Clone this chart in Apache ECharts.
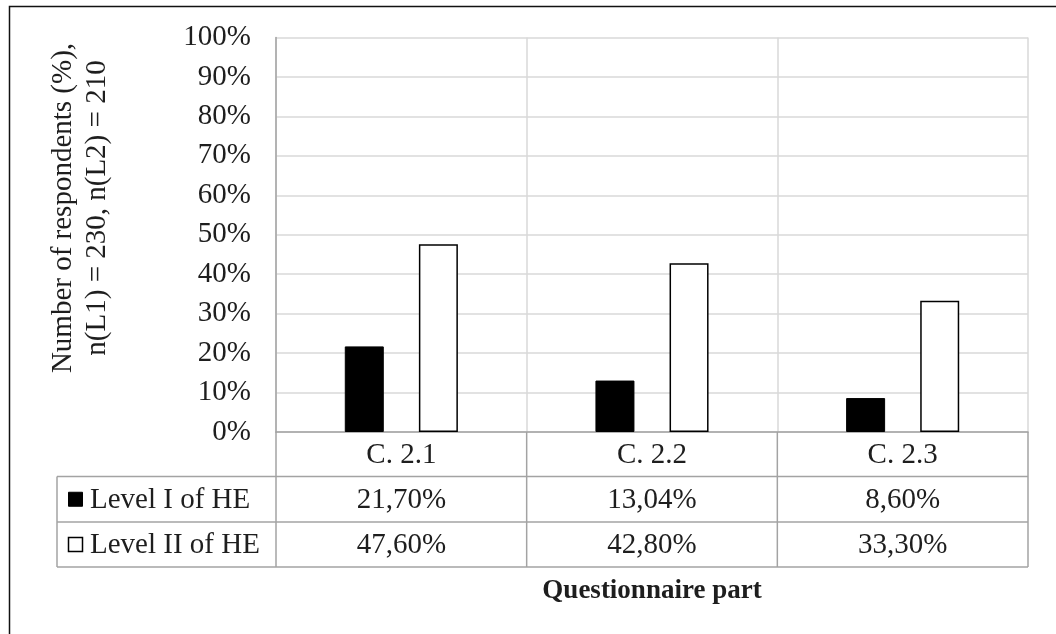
<!DOCTYPE html>
<html>
<head>
<meta charset="utf-8">
<script src="https://cdn.jsdelivr.net/npm/echarts@6/dist/echarts.min.js"></script>
<style>
html,body{margin:0;padding:0;background:#fff;}
#c{width:1056px;height:634px;}
</style>
</head>
<body>
<div id="c"></div>
<script>
var categories = ['C. 2.1', 'C. 2.2', 'C. 2.3'];
var seriesNames = ['Level I of HE', 'Level II of HE'];
var levelI = [21.70, 13.04, 8.60];
var levelII = [47.60, 42.80, 33.30];
var yTitleLines = ['Number of respondents (%),', 'n(L1) = 230, n(L2) = 210'];
var xTitle = 'Questionnaire part';

var FONT = "'Liberation Serif','Times New Roman',serif";
var FS = 29;
var TXT = '#1e1e1e';
var GRID_LEFT = 276, GRID_RIGHT = 28, GRID_TOP = 37.5, GRID_BOTTOM = 202;
var W = 1056, H = 634;

function fmt(v){ return v.toFixed(2).replace('.', ',') + '%'; }

var chart = echarts.init(document.getElementById('c'), null, {renderer:'canvas'});
var option = {
  backgroundColor: '#fff',
  animation: false,
  grid: {left: GRID_LEFT, right: GRID_RIGHT, top: GRID_TOP, bottom: GRID_BOTTOM},
  xAxis: {
    type: 'category',
    data: categories,
    axisLine: {show: true, lineStyle: {color: '#a3a3a3', width: 1.5}},
    axisTick: {show: false},
    axisLabel: {fontFamily: FONT, fontSize: FS, color: TXT, margin: 23, verticalAlign: 'middle'},
    splitLine: {show: true, lineStyle: {color: '#d9d9d9', width: 1.5}},
    name: xTitle,
    nameLocation: 'middle',
    nameGap: 146,
    nameTextStyle: {fontFamily: FONT, fontSize: 27, fontWeight: 'bold', color: TXT}
  },
  yAxis: {
    type: 'value',
    min: 0, max: 100, interval: 10,
    axisLine: {show: true, lineStyle: {color: '#a3a3a3', width: 1.5}},
    axisTick: {show: false},
    axisLabel: {formatter: '{value}%', fontFamily: FONT, fontSize: FS, color: TXT, margin: 25},
    splitLine: {show: true, lineStyle: {color: '#d9d9d9', width: 1.5}}
  },
  series: [
    {name: seriesNames[0], type: 'bar', data: levelI, barWidth: 39, barGap: '90%',
     itemStyle: {color: '#000', borderColor: '#000', borderWidth: 1}},
    {name: seriesNames[1], type: 'bar', data: levelII, barWidth: 39,
     itemStyle: {color: '#fff', borderColor: '#000', borderWidth: 1.5}}
  ]
};
chart.setOption(option);

// Build data table beneath the axis, using the axis scale for column centers
var plotBottom = H - GRID_BOTTOM;
var plotRight = W - GRID_RIGHT;
var catW = (plotRight - GRID_LEFT) / categories.length;
var rowTop1 = 476.5, rowTop2 = 522, tableBottom = 567, tableLeft = 57;
var LC = '#a3a3a3';
var els = [];
function hline(x1, x2, y){ els.push({type:'line', shape:{x1:x1,y1:y,x2:x2,y2:y}, style:{stroke:LC, lineWidth:1.5}}); }
function vline(x, y1, y2){ els.push({type:'line', shape:{x1:x,y1:y1,x2:x,y2:y2}, style:{stroke:LC, lineWidth:1.5}}); }
hline(tableLeft, plotRight, rowTop1);
hline(tableLeft, plotRight, rowTop2);
hline(tableLeft, plotRight, tableBottom);
vline(tableLeft, rowTop1, tableBottom);
for (var i = 0; i <= categories.length; i++) {
  vline(GRID_LEFT + i * catW, plotBottom, tableBottom);
}
var rows = [levelI, levelII];
var rowCenters = [(rowTop1 + rowTop2) / 2, (rowTop2 + tableBottom) / 2];
for (var r = 0; r < rows.length; r++) {
  for (var c = 0; c < categories.length; c++) {
    var cx = chart.convertToPixel({xAxisIndex: 0}, categories[c]);
    els.push({type:'text', x: cx, y: rowCenters[r] + 1,
      style:{text: fmt(rows[r][c]), font: FS + 'px ' + FONT, fill: TXT, align:'center', verticalAlign:'middle'}});
  }
  // legend key
  els.push({type:'rect', shape:{x:68.5, y: rowCenters[r] - 7, width:14, height:14},
    style: r === 0 ? {fill:'#000', stroke:'#000', lineWidth:1} : {fill:'#fff', stroke:'#000', lineWidth:1.5}});
  els.push({type:'text', x: 90, y: rowCenters[r] + 1,
    style:{text: seriesNames[r], font: FS + 'px ' + FONT, fill: TXT, align:'left', verticalAlign:'middle'}});
}
// y-axis title (two lines, rotated)
els.push({type:'text', x: 80, y: 208, rotation: Math.PI / 2,
  style:{text: yTitleLines.join('\n'), font: FS + 'px ' + FONT, lineHeight: 34, fill: TXT, align:'center', verticalAlign:'middle'}});
// outer frame (top and left edges visible)
els.push({type:'rect', shape:{x:9.5, y:6.5, width:1200, height:800}, style:{fill:null, stroke:'#111', lineWidth:1.5}, z: 10});
chart.setOption({graphic: {elements: els}});
</script>
</body>
</html>
